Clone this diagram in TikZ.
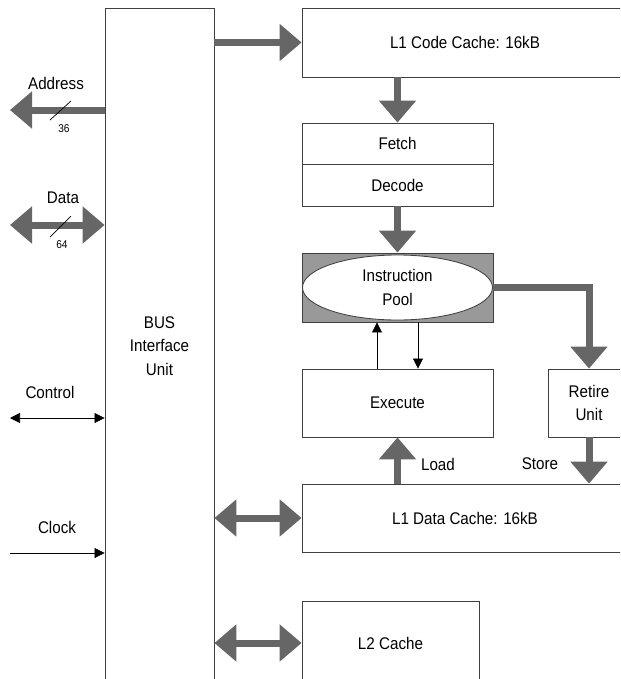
\documentclass[tikz,border=0pt]{standalone}
\usepackage{fontspec}
\setmainfont{Liberation Sans}[FakeStretch=0.9]
\usetikzlibrary{shapes,arrows.meta}

\begin{document}
\begin{tikzpicture}[x=0.025cm,y=-0.025cm]

\def\px{0.025cm}

\tikzstyle{block}=[rectangle,draw=black!75,line width=0.6pt,fill=white,inner sep=0pt,align=center,font=\fontsize{12}{16.5}\selectfont]
\tikzstyle{poolBox}=[block,fill=black!40]
\tikzstyle{poolEllipse}=[ellipse,draw=black!75,line width=0.6pt,fill=white,inner sep=0pt,align=center,font=\fontsize{12}{16.5}\selectfont]
\tikzstyle{sigText}=[inner sep=1pt,font=\fontsize{12}{13}\selectfont]
\tikzstyle{widthText}=[inner sep=1pt,font=\fontsize{8}{9}\selectfont]
\tikzstyle{bigArrow}=[draw=black!60,line width=0.175cm,-{Triangle[length=0.55cm,width=0.9cm]}]
\tikzstyle{bigBoth}=[bigArrow,{Triangle[length=0.55cm,width=0.9cm]}-{Triangle[length=0.55cm,width=0.9cm]}]
\tikzstyle{thinArrow}=[draw=black,line width=0.5pt,-{Triangle[length=0.25cm,width=0.25cm]}]
\tikzstyle{thinBoth}=[thinArrow,{Triangle[length=0.25cm,width=0.25cm]}-{Triangle[length=0.25cm,width=0.25cm]}]

\useasboundingbox (0,0) rectangle (620,679);
\clip (0,0) rectangle (620,679);

%Blocks
\node[block,minimum width=109*\px,minimum height=676*\px] (bus) at (159.5,346) {BUS\\Interface\\Unit};
\node[block,minimum width=326*\px,minimum height=69*\px] (codeCache) at (465,42.5) {L1 Code Cache: 16kB};
\node[block,minimum width=191*\px,minimum height=41*\px] (fetch) at (397.5,143.5) {Fetch};
\node[block,minimum width=191*\px,minimum height=42*\px] (decode) at (397.5,185) {Decode};
\node[poolBox,minimum width=191*\px,minimum height=69*\px] (pool) at (397.5,287.5) {};
\node[poolEllipse,minimum width=190*\px,minimum height=65*\px] (poolEll) at (397.5,287.5) {Instruction\\Pool};
\node[block,minimum width=191*\px,minimum height=68*\px] (execute) at (397.5,403) {Execute};
\node[block,minimum width=82*\px,minimum height=68*\px] (retire) at (589,403) {Retire\\Unit};
\node[block,minimum width=326*\px,minimum height=68*\px] (dataCache) at (465,518) {L1 Data Cache: 16kB};
\node[block,minimum width=177*\px,minimum height=84*\px] (l2Cache) at (390.5,643) {L2 Cache};

%Signal ends
\coordinate (addrEnd) at (10,110);
\coordinate (dataEnd) at (10,225);
\coordinate (ctrlEnd) at (10,418);
\coordinate (clkEnd) at (10,553);

%External signals
\draw[bigArrow] (bus.west |- addrEnd) -- (addrEnd);
\draw[bigBoth] (dataEnd) -- (bus.west |- dataEnd);
\draw[thinBoth] (ctrlEnd) -- (bus.west |- ctrlEnd);
\draw[thinArrow] (clkEnd) -- (bus.west |- clkEnd);

\draw[line width=0.5pt] (50,120) -- (71,101);
\draw[line width=0.5pt] (50,237) -- (71,216);

\node[sigText] (addrText) at (56,83) {Address};
\node[widthText] (addrWidth) at (64,129) {36};
\node[sigText] (dataText) at (63,198) {Data};
\node[widthText] (dataWidth) at (62,245) {64};
\node[sigText] (ctrlText) at (50,392) {Control};
\node[sigText] (clkText) at (57,527) {Clock};

%Bus to caches
\draw[bigArrow] (bus.east |- codeCache.west) -- (codeCache.west);
\draw[bigBoth] (bus.east |- dataCache.west) -- (dataCache.west);
\draw[bigBoth] (bus.east |- l2Cache.west) -- (l2Cache.west);

%Pipeline
\draw[bigArrow] (fetch.north |- codeCache.south) -- (fetch.north);
\draw[bigArrow] (decode.south) -- (pool.north);
\draw[bigArrow] (poolEll.east) -- (retire.north |- poolEll.east) -- (retire.north);
\draw[thinArrow] ([xshift=-20.5*\px]execute.north) -- ([xshift=-20.5*\px]pool.south);
\draw[thinArrow] ([xshift=20.5*\px]pool.south) -- ([xshift=20.5*\px]execute.north);

%Load and store
\draw[bigArrow] (execute.south |- dataCache.north) -- (execute.south);
\draw[bigArrow] (retire.south) -- (retire.south |- dataCache.north);
\node[sigText] (loadText) at (438,464) {Load};
\node[sigText] (storeText) at (540,464) {Store};

\end{tikzpicture}
\end{document}
